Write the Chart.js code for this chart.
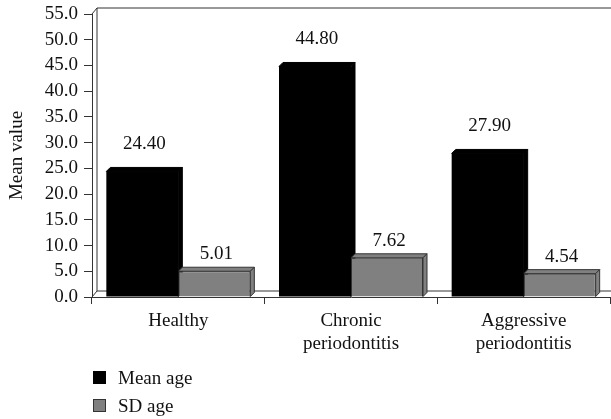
<!DOCTYPE html>
<html lang="en">
<head>
<meta charset="UTF-8">
<title>Mean age by group</title>
<script src="https://cdn.jsdelivr.net/npm/chart.js"></script>
<style>
  html, body { margin: 0; padding: 0; background: #fff; }
  #wrap { width: 611px; height: 419px; }
</style>
</head>
<body>
<div id="wrap"><canvas id="chart" width="611" height="419"></canvas></div>
<script>
// data
const categories = [['Healthy'], ['Chronic', 'periodontitis'], ['Aggressive', 'periodontitis']];
const meanAge = [24.40, 44.80, 27.90];
const sdAge = [5.01, 7.62, 4.54];
const seriesNames = ['Mean age', 'SD age'];
const yMin = 0, yMax = 55, yStep = 5;

const FONT = 'Liberation Serif';
const SIZE = 19;
const barDepth = { dx: 4, dy: -4 };
const wallDepth = { dx: 5, dy: -6 };
const labelGap = [27, 17]; // label distance above bar top, per series

// back wall, floor and the side/top faces of the bars
const frame3d = {
  id: 'frame3d',
  beforeDatasetsDraw(chart) {
    const { ctx, chartArea: a } = chart;
    const w = chart.width;
    ctx.save();
    ctx.lineWidth = 1;
    ctx.strokeStyle = '#333';
    ctx.beginPath();
    ctx.moveTo(a.left, a.top);
    ctx.lineTo(a.left + wallDepth.dx, a.top + wallDepth.dy);
    ctx.lineTo(w, a.top + wallDepth.dy);
    ctx.moveTo(a.left + wallDepth.dx, a.top + wallDepth.dy);
    ctx.lineTo(a.left + wallDepth.dx, a.bottom + wallDepth.dy);
    ctx.lineTo(w, a.bottom + wallDepth.dy);
    ctx.moveTo(a.left, a.bottom);
    ctx.lineTo(a.left + wallDepth.dx, a.bottom + wallDepth.dy);
    ctx.stroke();

    chart.data.datasets.forEach((ds, i) => {
      chart.getDatasetMeta(i).data.forEach(bar => {
        const p = bar.getProps(['x', 'y', 'base', 'width'], true);
        const l = p.x - p.width / 2, r = p.x + p.width / 2;
        const dx = barDepth.dx, dy = barDepth.dy;
        ctx.fillStyle = ds.backgroundColor;
        ctx.strokeStyle = ds.faceStroke;
        ctx.beginPath();
        ctx.moveTo(l, p.y); ctx.lineTo(l + dx, p.y + dy);
        ctx.lineTo(r + dx, p.y + dy); ctx.lineTo(r, p.y); ctx.closePath();
        ctx.fill(); ctx.stroke();
        ctx.beginPath();
        ctx.moveTo(r, p.y); ctx.lineTo(r + dx, p.y + dy);
        ctx.lineTo(r + dx, p.base + dy); ctx.lineTo(r, p.base); ctx.closePath();
        ctx.fill(); ctx.stroke();
      });
    });
    ctx.restore();
  },
  afterDatasetsDraw(chart) {
    const { ctx } = chart;
    ctx.save();
    ctx.font = SIZE + 'px "' + FONT + '"';
    ctx.fillStyle = '#111';
    ctx.textAlign = 'center';
    ctx.textBaseline = 'middle';
    chart.data.datasets.forEach((ds, i) => {
      chart.getDatasetMeta(i).data.forEach((bar, j) => {
        ctx.fillText(ds.data[j].toFixed(2), bar.x + 2, bar.y - labelGap[i]);
      });
    });
    // legend, stacked at the bottom left
    ctx.textAlign = 'left';
    chart.data.datasets.forEach((ds, i) => {
      const y = 371 + i * 28;
      ctx.fillStyle = ds.backgroundColor;
      ctx.fillRect(93, y, 13, 13);
      ctx.strokeStyle = ds.faceStroke;
      ctx.strokeRect(93.5, y + 0.5, 12, 12);
      ctx.fillStyle = '#111';
      ctx.fillText(ds.label, 118, y + 8);
    });
    ctx.restore();
  }
};

new Chart(document.getElementById('chart'), {
  type: 'bar',
  data: {
    labels: categories,
    datasets: [
      { label: seriesNames[0], data: meanAge, backgroundColor: '#000000', faceStroke: '#000000', borderWidth: 0 },
      { label: seriesNames[1], data: sdAge, backgroundColor: '#808080', faceStroke: '#333333', borderColor: '#333333', borderWidth: 1 }
    ]
  },
  options: {
    responsive: false,
    devicePixelRatio: 1,
    animation: false,
    categoryPercentage: 0.834,
    barPercentage: 1,
    layout: { padding: { top: 14, right: 1, bottom: 0, left: 0 } },
    plugins: { legend: { display: false }, tooltip: { enabled: false } },
    scales: {
      x: {
        grid: { offset: true, drawOnChartArea: false, drawTicks: true, tickLength: 7, color: '#333' },
        border: { display: true, color: '#333' },
        ticks: { color: '#111', padding: 6, maxRotation: 0, font: { family: FONT, size: SIZE, lineHeight: 1.2 } },
        afterFit: s => { s.height = 122; s.paddingLeft = 0; s.paddingRight = 0; }
      },
      y: {
        min: yMin, max: yMax,
        grid: { drawOnChartArea: false, drawTicks: true, tickLength: 8, color: '#333' },
        border: { display: true, color: '#333' },
        ticks: { stepSize: yStep, autoSkip: false, color: '#111', padding: 6, font: { family: FONT, size: SIZE },
                 callback: v => v.toFixed(1) },
        title: { display: true, text: 'Mean value', color: '#111', padding: { top: 6, bottom: 4 },
                 font: { family: FONT, size: SIZE } },
        afterFit: s => { s.width = 92; s.paddingTop = 0; s.paddingBottom = 0; }
      }
    }
  },
  plugins: [frame3d]
});
</script>
</body>
</html>
